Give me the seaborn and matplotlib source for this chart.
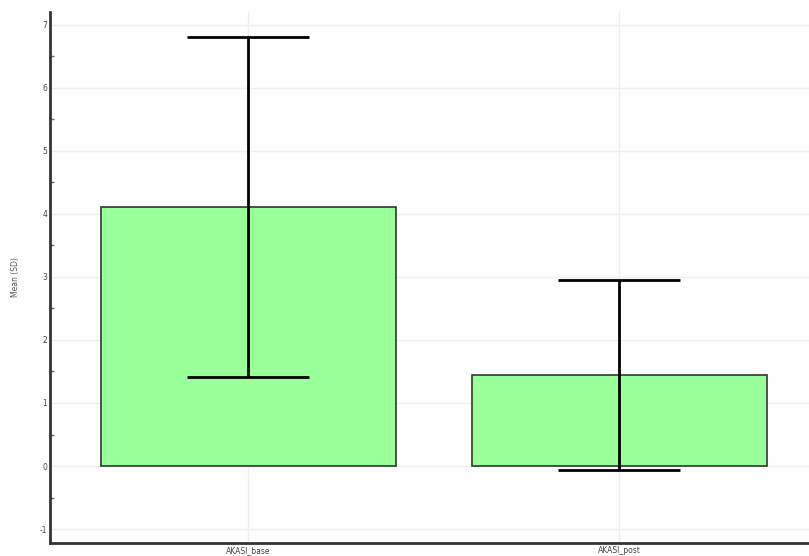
import matplotlib
matplotlib.use("Agg")
import matplotlib.pyplot as plt
import seaborn as sns
import pandas as pd
from matplotlib.ticker import MultipleLocator

categories = ["AKASI_base", "AKASI_post"]
means = [4.11, 1.44]
sds = [2.69, 1.51]

df = pd.DataFrame({"group": categories, "mean": means, "sd": sds})

sns.set_style("white")
plt.rcParams["axes.unicode_minus"] = False
fig = plt.figure(figsize=(8.09, 5.56), dpi=100)
ax = fig.add_axes([0.062, 0.0234, 0.938, 0.955])

sns.barplot(data=df, x="group", y="mean", ax=ax, color="#99FF99",
            saturation=1, width=0.795, edgecolor="#333333", linewidth=1.2,
            errorbar=None, zorder=2)
ax.errorbar(x=range(len(categories)), y=df["mean"], yerr=df["sd"], fmt="none",
            ecolor="black", elinewidth=2, capsize=44, capthick=2, zorder=3)

ax.set_xlim(-0.534, 1.512)
ax.set_ylim(-1.22, 7.2)
ax.yaxis.set_major_locator(MultipleLocator(1))
ax.yaxis.set_minor_locator(MultipleLocator(0.5))
ax.grid(True, which="major", color="#eeeeee", linewidth=1, zorder=0)
ax.set_axisbelow(True)
for s in ["top", "right"]:
    ax.spines[s].set_visible(False)
for s in ["left", "bottom"]:
    ax.spines[s].set_color("#333333")
    ax.spines[s].set_linewidth(2)
ax.tick_params(axis="both", which="major", direction="in", length=6, width=1.5,
               color="#333333", labelsize=5.5, labelcolor="#444444", pad=2)
ax.tick_params(axis="y", which="minor", direction="in", length=3, width=1,
               color="#666666", left=True)
ax.set_xlabel("")
ax.set_ylabel("Mean (SD)", fontsize=5.5, color="#555555", labelpad=14)
fig.savefig("out.png", dpi=100)
